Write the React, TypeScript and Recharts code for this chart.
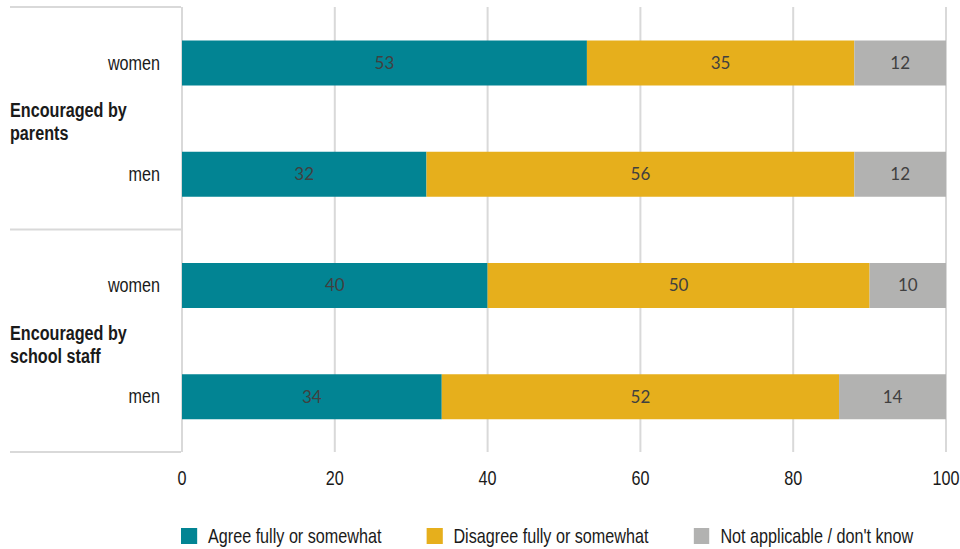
import React from 'react';
import {
  BarChart,
  Bar,
  XAxis,
  YAxis,
  CartesianGrid,
  LabelList,
  Legend,
} from 'recharts';

// Row categories (top to bottom) and the group each pair of rows belongs to
const categories = ['women', 'men', 'women', 'men'];
const groupLines = [
  ['Encouraged by', 'parents'],
  ['Encouraged by', 'school staff'],
];

// Shares in percent for each row
const agree = [53, 32, 40, 34];
const disagree = [35, 56, 50, 52];
const notApplicable = [12, 12, 10, 14];

const xTicks = [0, 20, 40, 60, 80, 100];

const seriesNames = [
  'Agree fully or somewhat',
  'Disagree fully or somewhat',
  "Not applicable / don't know",
];

const COLORS = ['#028493', '#E6AF1C', '#B2B2B1'];
const GRID = '#D9D9D9';
const TEXT = '#1a1a1a';
const VALUE_TEXT = '#404040';
const BASE_FONT = "'Liberation Sans', Arial, sans-serif";
const VALUE_FONT = "Lato, 'Open Sans', sans-serif";
// Axis and legend text is drawn horizontally compressed to get a condensed face
const SQUEEZE = 0.77;
const FONT_SIZE = 21;

const W = 960;
const H = 549;

const data = categories.map((label, i) => ({
  key: `row${i}`,
  label,
  agree: agree[i],
  disagree: disagree[i],
  na: notApplicable[i],
}));

const Condensed = ({
  x,
  y,
  anchor = 'start',
  bold = false,
  children,
}: {
  x: number;
  y: number;
  anchor?: 'start' | 'middle' | 'end';
  bold?: boolean;
  children: React.ReactNode;
}) => (
  <g transform={`translate(${x},${y}) scale(${SQUEEZE},1)`}>
    <text
      x={0}
      y={0}
      textAnchor={anchor}
      fill={TEXT}
      fontFamily={BASE_FONT}
      fontSize={FONT_SIZE}
      fontWeight={bold ? 'bold' : 'normal'}
    >
      {children}
    </text>
  </g>
);

const RowTick = (props: any) => {
  const { x, y, payload } = props;
  const index: number = payload?.index ?? props.index ?? 0;
  const half: number = payload?.offset && payload.offset > 0 ? payload.offset : 55.6;
  const row = data[index];
  const group = Math.floor(index / 2);
  const startsGroup = index % 2 === 0;
  const endsAll = index === data.length - 1;
  return (
    <g>
      <Condensed x={x} y={y + 7} anchor="end">
        {row ? row.label : ''}
      </Condensed>
      {startsGroup && (
        <>
          <line x1={10} x2={181} y1={y - half} y2={y - half} stroke={GRID} strokeWidth={2} />
          <Condensed x={10} y={y + half - 1} bold>
            {groupLines[group][0]}
          </Condensed>
          <Condensed x={10} y={y + half + 22} bold>
            {groupLines[group][1]}
          </Condensed>
        </>
      )}
      {endsAll && (
        <line x1={10} x2={181} y1={y + half} y2={y + half} stroke={GRID} strokeWidth={2} />
      )}
    </g>
  );
};

const ValueTick = (props: any) => {
  const { x, y, payload } = props;
  return (
    <Condensed x={x} y={y + 33} anchor="middle">
      {payload.value}
    </Condensed>
  );
};

const LegendContent = () => (
  <div
    style={{
      position: 'absolute',
      left: 181,
      top: 0,
      display: 'flex',
      alignItems: 'center',
      height: 24,
      fontFamily: BASE_FONT,
      fontSize: FONT_SIZE,
      color: TEXT,
      whiteSpace: 'nowrap',
      transform: `scaleX(${SQUEEZE})`,
      transformOrigin: '0 50%',
    }}
  >
    {seriesNames.map((name, i) => (
      <div
        key={name}
        style={{ display: 'flex', alignItems: 'center', marginRight: 45 / SQUEEZE }}
      >
        <span
          style={{
            display: 'inline-block',
            width: 16 / SQUEEZE,
            height: 16,
            background: COLORS[i],
            marginRight: 11 / SQUEEZE,
          }}
        />
        <span>{name}</span>
      </div>
    ))}
  </div>
);

export default function App() {
  return (
    <div style={{ position: 'absolute', left: 0, top: 0, width: W, height: H, background: '#fff' }}>
      <BarChart
        width={W}
        height={H}
        data={data}
        layout="vertical"
        margin={{ top: 7, right: 14, left: 0, bottom: 67 }}
        barCategoryGap="30%"
      >
        <CartesianGrid horizontal={false} stroke={GRID} strokeWidth={2} />
        <XAxis
          type="number"
          domain={[0, 100]}
          ticks={xTicks}
          axisLine={false}
          tickLine={false}
          tickSize={0}
          tickMargin={0}
          height={30}
          tick={<ValueTick />}
          interval={0}
        />
        <YAxis
          type="category"
          dataKey="key"
          width={182}
          axisLine={false}
          tickLine={false}
          tickSize={0}
          tickMargin={22}
          tick={<RowTick />}
          interval={0}
        />
        <Legend
          content={<LegendContent />}
          wrapperStyle={{ position: 'absolute', left: 0, top: 524, width: W, height: 0, overflow: 'visible' }}
        />
        <Bar dataKey="agree" name={seriesNames[0]} stackId="s" fill={COLORS[0]} isAnimationActive={false}>
          <LabelList dataKey="agree" position="center" fill={VALUE_TEXT} fontFamily={VALUE_FONT} fontSize={17} />
        </Bar>
        <Bar dataKey="disagree" name={seriesNames[1]} stackId="s" fill={COLORS[1]} isAnimationActive={false}>
          <LabelList dataKey="disagree" position="center" fill={VALUE_TEXT} fontFamily={VALUE_FONT} fontSize={17} />
        </Bar>
        <Bar dataKey="na" name={seriesNames[2]} stackId="s" fill={COLORS[2]} isAnimationActive={false}>
          <LabelList dataKey="na" position="center" fill={VALUE_TEXT} fontFamily={VALUE_FONT} fontSize={17} />
        </Bar>
      </BarChart>
    </div>
  );
}
